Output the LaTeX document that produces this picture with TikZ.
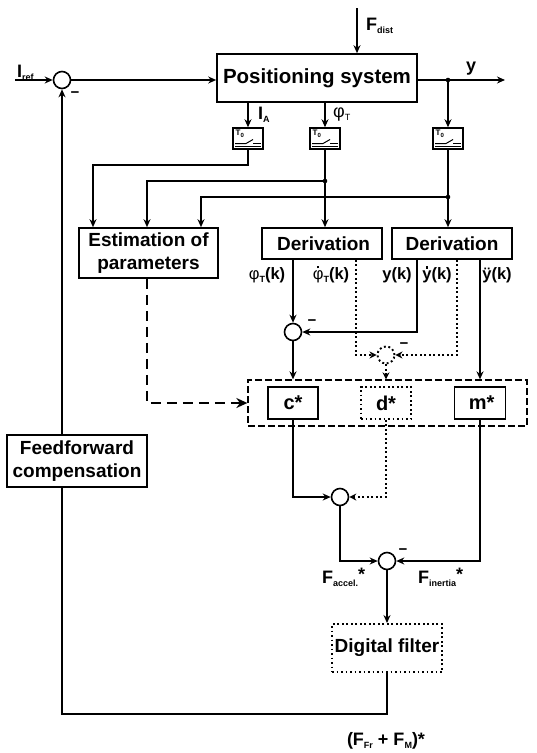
\documentclass[tikz,border=0pt]{standalone}
\usepackage{fontspec}
\setmainfont{Liberation Sans}
\usetikzlibrary{arrows.meta}
\newcommand\sub[1]{\raisebox{-3pt}{\fontsize{9}{10}\selectfont #1}}
\newcommand\dotacc[1]{{\setbox0\hbox{#1}\rlap{\hbox to\wd0{\hss\raisebox{\dimexpr\ht0+1.6pt\relax}{\rule{2.4pt}{2.4pt}}\hss}}\box0}}
\tikzset{
  box/.style={draw, line width=1.6pt, font=\bfseries\fontsize{19}{23}\selectfont, align=center, inner sep=0pt},
  dbox/.style={box, line width=1.9pt, dash pattern=on 1.9pt off 2.6pt},
  sumc/.style={circle, draw, line width=1.6pt, minimum size=17pt, inner sep=0pt},
  dsum/.style={sumc, line width=1.9pt, dash pattern=on 1.9pt off 2.6pt},
  ln/.style={line width=1.4pt},
  arr/.style={ln, -{Stealth[length=8pt,width=7pt]}},
  dln/.style={line width=1.9pt, dash pattern=on 1.9pt off 2.6pt},
  darr/.style={dln, -{Stealth[length=7pt,width=7pt]}},
  samp/.style={draw, line width=1.5pt, minimum width=30pt, minimum height=21pt, inner sep=0pt},
  lab/.style={font=\bfseries\fontsize{18}{20}\selectfont, inner sep=0pt},
  slab/.style={font=\bfseries\fontsize{16.5}{20}\selectfont, inner sep=0pt},
  minus/.style={font=\bfseries\fontsize{15}{15}\selectfont, inner sep=0pt}
}
\begin{document}
\begin{tikzpicture}[x=1pt,y=-1pt]
\useasboundingbox (0,0) rectangle (537,753);
% main block
\node[box, minimum width=200pt, minimum height=48pt, font=\bfseries\fontsize{20.5}{24}\selectfont] (ps) at (317,78) {Positioning system};
\node[sumc] (s1) at (62,80) {};
\coordinate (in) at (15,80);
\draw[arr] (in) -- (s1.west);
\draw[arr] (s1.east) -- (s1.east -| ps.west);
\coordinate (out) at (505,80);
\coordinate (tap) at (448,80);
\draw[arr] (ps.east |- tap) -- (out);
\fill (tap) circle (2.3pt);
\coordinate (fd) at (357,8);
\draw[arr] (fd) -- (fd |- ps.north);
\node[lab, anchor=base west] (lfd) at (366,30) {F\sub{dist}};
\node[lab, anchor=base west] (lin) at (17,77) {I\sub{ref}};
\node[lab, anchor=base west] (ly) at (466,71) {y};
\node[minus] (m1) at (75,95) {−};
% samplers
\node[samp] (t1) at (248,138.5) {};
\node[samp] (t2) at (325,138.5) {};
\node[samp] (t3) at (448,138.5) {};
\foreach \t in {t1,t2,t3} {
  \node[font=\bfseries\fontsize{8}{8}\selectfont, anchor=north west, inner sep=0pt] (T\t) at ([shift={(-12.5,-8.5)}]\t.center) {T\raisebox{-1.5pt}{\fontsize{6}{6}\selectfont 0}};
  \draw[line width=1pt] ([shift={(-13,5)}]\t.center) -- ++(11,0) -- ++(7,-4);
  \draw[line width=1pt] ([shift={(5,5)}]\t.center) -- ++(8,0);
  \draw[line width=0.8pt] ([shift={(-13,7.5)}]\t.center) -- ++(26,0);
}
\draw[arr] (t1 |- ps.south) -- (t1.north);
\draw[arr] (t2 |- ps.south) -- (t2.north);
\draw[arr] (tap) -- (t3.north);
\node[lab, anchor=base west] (lia) at (258,119) {I\sub{A}};
\node[lab, anchor=base west, font=\fontsize{18}{20}\selectfont] (lphi) at (333,117) {φ\sub{T}};
% estimation and derivations
\node[box, minimum width=139pt, minimum height=50pt] (est) at (148.5,253) {Estimation of\\parameters};
\node[box, minimum width=120pt, minimum height=31pt] (der1) at (322,243.5) {\,Derivation};
\node[box, minimum width=120pt, minimum height=31pt] (der2) at (452,243.5) {Derivation};
\coordinate (a1) at (93,165);
\draw[arr] (t1.south) |- (a1) -- (a1 |- est.north);
\draw[arr] (t2.south) -- (t2.south |- der1.north);
\coordinate (d2) at (325,181);
\fill (d2) circle (2.3pt);
\coordinate (a2) at (147,181);
\draw[arr] (d2) -- (a2) -- (a2 |- est.north);
\draw[arr] (t3.south) -- (t3.south |- der2.north);
\coordinate (d3) at (448,197);
\fill (d3) circle (2.3pt);
\coordinate (a3) at (201,197);
\draw[arr] (d3) -- (a3) -- (a3 |- est.north);
% signal labels
\node[slab, anchor=base] (l1) at (267,279) {{\mdseries φ}\sub{T}(k)};
\node[slab, anchor=base] (l2) at (331,279) {\dotacc{\mdseries φ}\sub{T}(k)};
\node[slab, anchor=base] (l3) at (397,279) {y(k)};
\node[slab, anchor=base] (l4) at (437,279) {\dotacc{y}(k)};
\node[slab, anchor=base] (l5) at (497,279) {ÿ(k)};
% differences
\node[sumc] (s2) at (293,332) {};
\draw[arr] (s2 |- der1.south) -- (s2.north);
\coordinate (o2) at (417,332);
\draw[arr] (o2 |- der2.south) -- (o2) -- (s2.east);
\node[minus] (m2) at (312,323) {−};
\node[dsum] (s3) at (386,355) {};
\coordinate (o3) at (356,355);
\draw[darr] (o3 |- der1.south) -- (o3) -- (s3.west);
\coordinate (o4) at (457,355);
\draw[darr] (o4 |- der2.south) -- (o4) -- (s3.east);
\node[minus] (m3) at (404,346) {−};
% container
\node[draw, line width=1.3pt, dash pattern=on 7pt off 3pt, minimum width=279pt, minimum height=46pt, inner sep=0pt] (ct) at (387.5,403) {};
\draw[arr] (s2.south) -- (s2.south |- ct.north);
\draw[darr] (s3.south) -- (s3.south |- ct.north);
\coordinate (o5) at (480,0);
\draw[arr] (o5 |- der2.south) -- (o5 |- ct.north);
\node[box, minimum width=50pt, minimum height=32pt, font=\bfseries\fontsize{20}{22}\selectfont] (c) at (293,403) {c*};
\node[dbox, minimum width=50pt, minimum height=32pt, font=\bfseries\fontsize{20}{22}\selectfont] (d) at (386,403) {d*};
\node[box, minimum width=51pt, minimum height=32pt, font=\bfseries\fontsize{20}{22}\selectfont] (m) at (480,403) {\,m*};
\coordinate (e1) at (147,403);
\draw[line width=2.7pt, dash pattern=on 10pt off 6pt, -{Stealth[length=11pt,width=10pt]}] (e1 |- est.south) -- (e1) -- (ct.west);
% lower sums
\node[sumc] (s4) at (340,497) {};
\draw[arr] (c.south) |- (s4.west);
\draw[darr] (d.south) |- (s4.east);
\node[sumc] (s5) at (387,561) {};
\draw[arr] (s4.south) |- (s5.west);
\draw[arr] (m.south) |- (s5.east);
\node[minus] (m5) at (403,552) {−};
\node[lab, anchor=base west] (lfa) at (322,583) {F\sub{accel.}\raisebox{3pt}{*}};
\node[lab, anchor=base west] (lfi) at (418,583) {F\sub{inertia}\raisebox{3pt}{*}};
% filter and feedforward
\node[dbox, minimum width=110pt, minimum height=48pt] (filt) at (387,648) {Digital filter};
\draw[arr] (s5.south) -- (filt.north);
\node[box, minimum width=140pt, minimum height=52pt] (ff) at (77,461) {Feedforward\\compensation};
\coordinate (b1) at (387,714);
\coordinate (b2) at (62,714);
\draw[ln] (filt.south) -- (b1) -- (b2) -- (b2 |- ff.south);
\draw[arr] (b2 |- ff.north) -- (s1.south);
\node[lab, anchor=base] (lff) at (386,745) {(F\sub{Fr} + F\sub{M})*};
\end{tikzpicture}
\end{document}
